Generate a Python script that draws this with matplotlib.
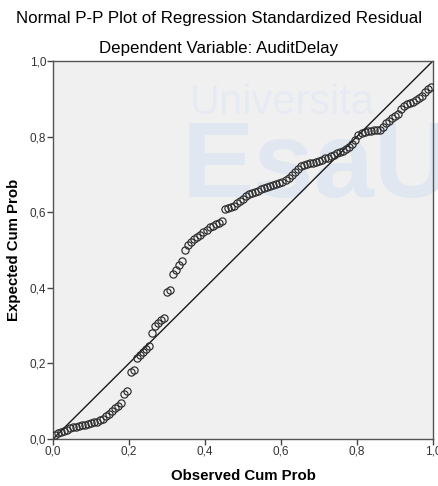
import matplotlib
matplotlib.use('Agg')
import matplotlib.pyplot as plt

plt.rcParams['font.family'] = ['Liberation Sans', 'DejaVu Sans']

# observed cumulative probability (x) and expected cumulative probability (y)
obs_cum = [0.004, 0.012, 0.020, 0.028, 0.036, 0.044, 0.052, 0.060, 0.068, 0.076,
           0.084, 0.092, 0.100, 0.108, 0.116, 0.124, 0.132, 0.140, 0.148, 0.156,
           0.164, 0.172, 0.180, 0.188, 0.196, 0.204, 0.212, 0.220, 0.228, 0.236,
           0.244, 0.252, 0.260, 0.268, 0.276, 0.284, 0.292, 0.300, 0.308, 0.316,
           0.324, 0.332, 0.340, 0.348, 0.356, 0.364, 0.372, 0.380, 0.388, 0.396,
           0.404, 0.412, 0.420, 0.428, 0.436, 0.444, 0.452, 0.460, 0.468, 0.476,
           0.484, 0.492, 0.500, 0.508, 0.516, 0.524, 0.532, 0.540, 0.548, 0.556,
           0.564, 0.572, 0.580, 0.588, 0.596, 0.604, 0.612, 0.620, 0.628, 0.636,
           0.644, 0.652, 0.660, 0.668, 0.676, 0.684, 0.692, 0.700, 0.708, 0.716,
           0.724, 0.732, 0.740, 0.748, 0.756, 0.764, 0.772, 0.780, 0.788, 0.796,
           0.804, 0.812, 0.820, 0.828, 0.836, 0.844, 0.852, 0.860, 0.868, 0.876,
           0.884, 0.892, 0.900, 0.908, 0.916, 0.924, 0.932, 0.940, 0.948, 0.956,
           0.964, 0.972, 0.980, 0.988, 0.996]
exp_cum = [0.010, 0.015, 0.019, 0.022, 0.025, 0.028, 0.031, 0.032, 0.034, 0.036,
           0.038, 0.040, 0.042, 0.044, 0.046, 0.049, 0.053, 0.060, 0.067, 0.074,
           0.081, 0.088, 0.096, 0.118, 0.128, 0.176, 0.182, 0.214, 0.222, 0.230,
           0.238, 0.246, 0.280, 0.300, 0.308, 0.314, 0.320, 0.390, 0.394, 0.436,
           0.446, 0.460, 0.472, 0.500, 0.512, 0.520, 0.528, 0.534, 0.540, 0.548,
           0.554, 0.560, 0.564, 0.568, 0.572, 0.576, 0.608, 0.611, 0.614, 0.617,
           0.624, 0.630, 0.636, 0.644, 0.647, 0.650, 0.652, 0.655, 0.660, 0.664,
           0.667, 0.670, 0.672, 0.675, 0.677, 0.681, 0.686, 0.691, 0.698, 0.706,
           0.714, 0.722, 0.725, 0.727, 0.729, 0.730, 0.733, 0.736, 0.739, 0.742,
           0.744, 0.748, 0.752, 0.756, 0.759, 0.763, 0.766, 0.772, 0.779, 0.792,
           0.804, 0.808, 0.811, 0.814, 0.815, 0.816, 0.816, 0.817, 0.826, 0.836,
           0.842, 0.848, 0.854, 0.860, 0.874, 0.882, 0.886, 0.889, 0.892, 0.897,
           0.901, 0.908, 0.918, 0.926, 0.930]

ticks = [0.0, 0.2, 0.4, 0.6, 0.8, 1.0]
tick_labels = ['0,0', '0,2', '0,4', '0,6', '0,8', '1,0']

fig = plt.figure(figsize=(4.38, 4.86), dpi=100)
ax = fig.add_axes([0.121, 0.0967, 0.8675, 0.778])
ax.set_facecolor('#f0f0f0')

# faint watermark behind the points
ax.text(0.36, 0.86, 'Universita', fontsize=30, color='#e6ebf3',
        transform=ax.transAxes, zorder=0.5)
ax.text(0.34, 0.64, 'EsaU', fontsize=78, color='#e0e7f1', fontweight='bold',
        transform=ax.transAxes, zorder=0.5)

ax.plot([0, 1], [0, 1], color='#1a1a1a', linewidth=1.0, zorder=2)
ax.plot(obs_cum, exp_cum, linestyle='none', marker='o', markersize=5.2,
        markerfacecolor='none', markeredgecolor='#2b2b2b', markeredgewidth=0.85,
        zorder=3)

ax.set_xlim(0, 1)
ax.set_ylim(0, 1)
ax.set_xticks(ticks)
ax.set_xticklabels(tick_labels)
ax.set_yticks(ticks)
ax.set_yticklabels(tick_labels)
ax.tick_params(direction='out', length=4, width=1, colors='#444444',
               labelsize=8.5, labelcolor='#333333', pad=1)
for s in ax.spines.values():
    s.set_color('#555555')
    s.set_linewidth(1.0)

ax.set_xlabel('Observed Cum Prob', fontsize=10.8, fontweight='bold', labelpad=8)
ax.set_ylabel('Expected Cum Prob', fontsize=10.8, fontweight='bold', labelpad=6)

fig.text(0.5, 0.961, 'Normal P-P Plot of Regression Standardized Residual',
         ha='center', va='center', fontsize=12.2)
fig.text(0.5, 0.901, 'Dependent Variable: AuditDelay',
         ha='center', va='center', fontsize=12.2)

fig.savefig('out.png', dpi=100)
